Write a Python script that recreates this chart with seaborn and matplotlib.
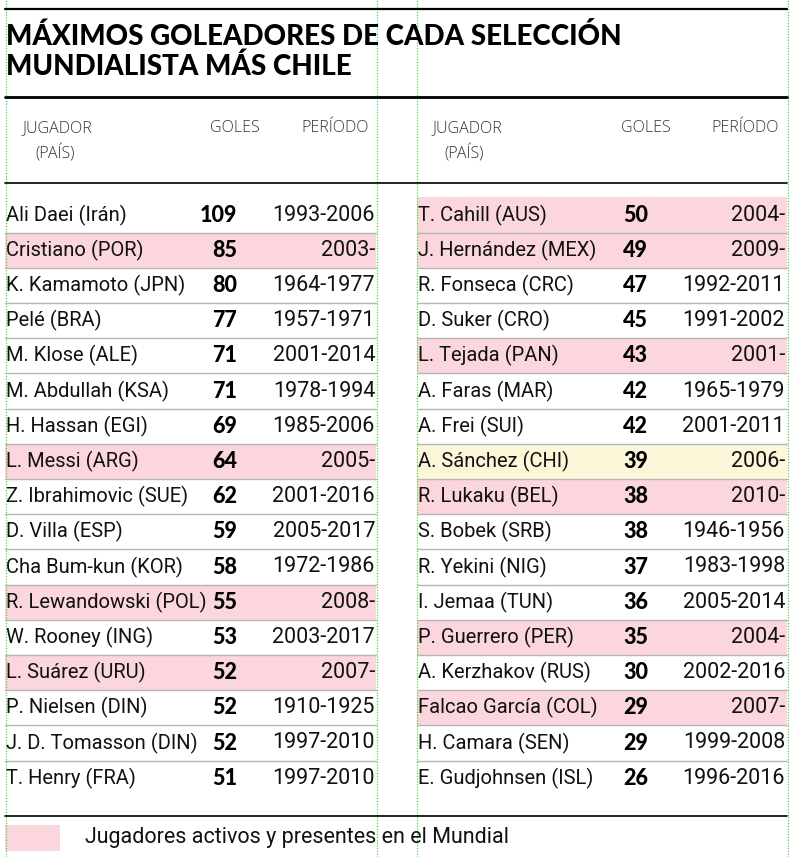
import matplotlib
matplotlib.use("Agg")
import matplotlib.pyplot as plt
import seaborn as sns
import pandas as pd

# datos de la tabla
izq_jugador = ["Ali Daei (Irán)", "Cristiano (POR)", "K. Kamamoto (JPN)", "Pelé (BRA)",
               "M. Klose (ALE)", "M. Abdullah (KSA)", "H. Hassan (EGI)", "L. Messi (ARG)",
               "Z. Ibrahimovic (SUE)", "D. Villa (ESP)", "Cha Bum-kun (KOR)",
               "R. Lewandowski (POL)", "W. Rooney (ING)", "L. Suárez (URU)",
               "P. Nielsen (DIN)", "J. D. Tomasson (DIN)", "T. Henry (FRA)"]
izq_goles = [109, 85, 80, 77, 71, 71, 69, 64, 62, 59, 58, 55, 53, 52, 52, 52, 51]
izq_periodo = ["1993-2006", "2003-", "1964-1977", "1957-1971", "2001-2014", "1978-1994",
               "1985-2006", "2005-", "2001-2016", "2005-2017", "1972-1986", "2008-",
               "2003-2017", "2007-", "1910-1925", "1997-2010", "1997-2010"]
izq_estado = ["", "activo", "", "", "", "", "", "activo", "", "", "", "activo", "",
              "activo", "", "", ""]

der_jugador = ["T. Cahill (AUS)", "J. Hernández (MEX)", "R. Fonseca (CRC)", "D. Suker (CRO)",
               "L. Tejada (PAN)", "A. Faras (MAR)", "A. Frei (SUI)", "A. Sánchez (CHI)",
               "R. Lukaku (BEL)", "S. Bobek (SRB)", "R. Yekini (NIG)", "I. Jemaa (TUN)",
               "P. Guerrero (PER)", "A. Kerzhakov (RUS)", "Falcao García (COL)",
               "H. Camara (SEN)", "E. Gudjohnsen (ISL)"]
der_goles = [50, 49, 47, 45, 43, 42, 42, 39, 38, 38, 37, 36, 35, 30, 29, 29, 26]
der_periodo = ["2004-", "2009-", "1992-2011", "1991-2002", "2001-", "1965-1979",
               "2001-2011", "2006-", "2010-", "1946-1956", "1983-1998", "2005-2014",
               "2004-", "2002-2016", "2007-", "1999-2008", "1996-2016"]
der_estado = ["activo", "activo", "", "", "activo", "", "", "chile", "activo", "", "", "",
              "activo", "", "activo", "", ""]

sns.set_theme(style="white")
plt.rcParams['font.family'] = ['Roboto', 'DejaVu Sans']

colores = {"activo": "#fbd6dc", "chile": "#fdf7da", "": "white"}
txt = "#111111"

fig = plt.figure(figsize=(7.93, 8.57), dpi=100)
ax = fig.add_axes([0, 0, 1, 1])
ax.set_xlim(0, 793)
ax.set_ylim(857, 0)
ax.axis("off")

# guias verdes
for gx in [5.5, 376.5, 416.5, 787.5]:
    ax.axvline(gx, color="#33cc33", lw=0.8, ls=(0, (1, 1.5)))

# lineas negras
ax.plot([5, 787], [9, 9], color="black", lw=1.6)
ax.plot([5, 787], [97, 97], color="black", lw=2.0)
ax.plot([5, 787], [183, 183], color="black", lw=1.2)
ax.plot([5, 787], [816, 816], color="black", lw=1.2)

ax.text(6, 45, "MÁXIMOS GOLEADORES DE CADA SELECCIÓN", fontsize=20, fontweight="black",
        family=["Lato", "DejaVu Sans"], va="baseline", ha="left", color="black")
ax.text(6, 75, "MUNDIALISTA MÁS CHILE", fontsize=20, fontweight="black",
        family=["Lato", "DejaVu Sans"], va="baseline", ha="left", color="black")

y0 = 215
paso = 35.2

tablas = [
    (izq_jugador, izq_goles, izq_periodo, izq_estado, 5, 376, 237, 375, 22, 35, 235, 369),
    (der_jugador, der_goles, der_periodo, der_estado, 417, 787, 648, 785, 432, 444, 646, 779),
]

for jug, gol, per, est, x0, x1, xg, xp, xh, xh2, xgh, xph in tablas:
    df = pd.DataFrame({"jugador": jug, "goles": gol, "periodo": per, "estado": est})
    df["fila"] = range(len(df))
    df["y"] = y0 + df["fila"] * paso
    # cabecera
    cab = dict(fontsize=11.5, color="#333333", va="center",
               family=["Open Sans", "DejaVu Sans"], fontweight="light")
    ax.text(xh, 128, "JUGADOR", ha="left", **cab)
    ax.text(xh2, 153, "(PAÍS)", ha="left", **cab)
    ax.text(xgh, 128, "GOLES", ha="center", **cab)
    ax.text(xph, 128, "PERÍODO", ha="right", **cab)
    # fondos de fila
    ax.barh(df["y"], x1 - x0, left=x0, height=paso,
            color=[colores[e] for e in df["estado"]], edgecolor="none")
    # separadores
    for yy in (df["y"] + paso / 2)[:-1]:
        ax.plot([x0, x1], [yy, yy], color="#b5b5b5", lw=1.0)
    for _, r in df.iterrows():
        ax.text(x0 + 1, r["y"], r["jugador"], fontsize=14.5, ha="left", va="center",
                color=txt)
        ax.text(xg, r["y"], str(r["goles"]), fontsize=15.5, ha="right", va="center",
                fontweight="black", family=["Lato", "DejaVu Sans"], color="black")
        ax.text(xp, r["y"], r["periodo"], fontsize=15.5, ha="right", va="center",
                color=txt)

# leyenda
ax.barh([838], [55], left=5, height=26, color=colores["activo"], edgecolor="none")
ax.text(85, 838, "Jugadores activos y presentes en el Mundial", fontsize=15.5,
        ha="left", va="center", color=txt)

fig.savefig("out.png", dpi=100)
